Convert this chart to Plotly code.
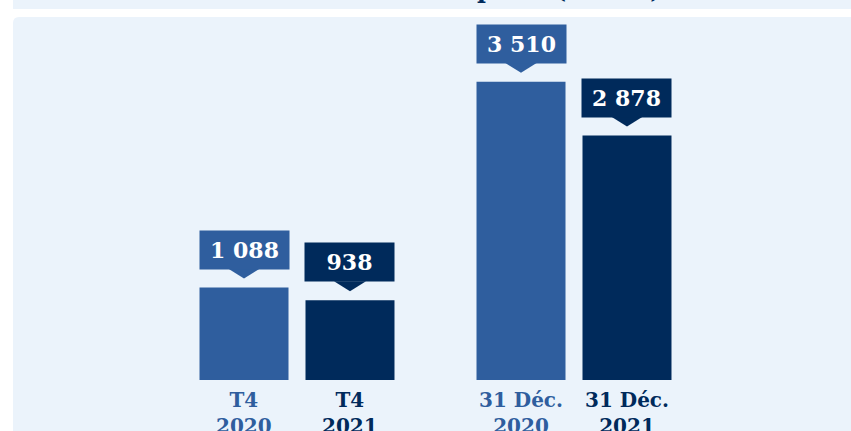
import plotly.graph_objects as go

# --- data ---
periods = ["T4", "31 Déc."]
years = ["2020", "2021"]
values_2020 = [1088, 3510]
values_2021 = [938, 2878]
colors = {"2020": "#2F5E9E", "2021": "#002A5B"}

W, H = 851, 431
PANEL = "#EBF3FB"
FONT = "DejaVu Serif, Georgia, serif"

# --- geometry helpers (pixels) ---
x_dom = (158.5 / W, 712.5 / W)          # category axis domain
cat_px = (x_dom[1] - x_dom[0]) * W / 2  # px per category (range -0.5..1.5)
bargap = 0.2347
bargroupgap = 0.1604
slot = cat_px * (1 - bargap) / 2
bar_w = slot * (1 - bargroupgap)
offsets = {"2020": -slot / 2, "2021": slot / 2}

fig = go.Figure()
for yr, vals in (("2020", values_2020), ("2021", values_2021)):
    fig.add_trace(go.Bar(
        x=periods, y=vals, name=yr,
        marker=dict(color=colors[yr], line_width=0),
        hoverinfo="skip",
    ))

# --- value callouts + category labels ---
for yr, vals in (("2020", values_2020), ("2021", values_2021)):
    dx = offsets[yr]
    for p, v in zip(periods, vals):
        label = f"{v:,}".replace(",", " ")
        fig.add_annotation(
            x=p, y=v, xref="x", yref="y", xshift=dx, yshift=18,
            yanchor="bottom", showarrow=False,
            text=f"<b>{label}</b>", width=bar_w, height=38, borderpad=0,
            bgcolor=colors[yr], font=dict(family=FONT, size=22, color="white"),
        )
        fig.add_shape(
            type="path", xref="x", yref="y",
            xsizemode="pixel", ysizemode="pixel", xanchor=p, yanchor=v,
            path=f"M {dx-16},19 L {dx+16},19 L {dx},9 Z",
            fillcolor=colors[yr], line_width=0,
        )
        fig.add_annotation(
            x=p, y=0, xref="x", yref="y", xshift=dx, yshift=-6,
            yanchor="top", showarrow=False,
            text=f"<b>{p}<br>{yr}</b>",
            font=dict(family=FONT, size=20, color=colors[yr]),
        )

# --- page panels ---
r_x, r_y = 6 / W, 6 / H
x0, ytop = 13 / W, 1 - 17 / H
fig.add_shape(type="rect", xref="paper", yref="paper", layer="below",
              x0=x0, x1=1.01, y0=1 - 9 / H, y1=1.01, fillcolor=PANEL, line_width=0)
fig.add_shape(
    type="path", xref="paper", yref="paper", layer="below",
    path=(f"M {x0},-0.01 L {x0},{ytop - r_y} Q {x0},{ytop} {x0 + r_x},{ytop} "
          f"L 1.01,{ytop} L 1.01,-0.01 Z"),
    fillcolor=PANEL, line_width=0,
)

# clipped title, only descenders visible
fig.add_annotation(
    xref="paper", yref="paper", x=664 / W, y=1 - 9 / H, yshift=3,
    xanchor="right", yanchor="bottom", showarrow=False,
    text="<b>Production et encours de prêts (en M€)</b>",
    font=dict(family=FONT, size=24, color="#002A5B"),
)

fig.update_layout(
    width=W, height=H,
    margin=dict(l=0, r=0, t=0, b=0),
    paper_bgcolor="white", plot_bgcolor="rgba(0,0,0,0)",
    barmode="group", bargap=bargap, bargroupgap=bargroupgap,
    showlegend=False,
    xaxis=dict(domain=list(x_dom), range=[-0.5, 1.5], visible=False, fixedrange=True),
    yaxis=dict(domain=[(H - 380) / H, 1], range=[0, 4473], visible=False, fixedrange=True),
)

fig.write_html(
    "out.html",
    config={"displayModeBar": False},
    post_script="document.body.style.margin='0';",
)
